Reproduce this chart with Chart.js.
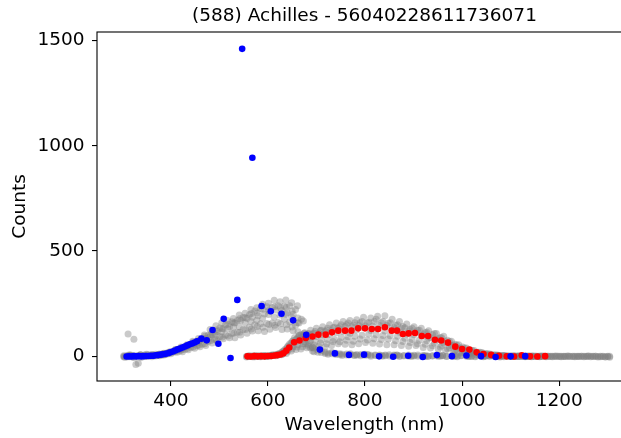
<!DOCTYPE html>
<html>
<head>
<meta charset="utf-8">
<script src="https://cdn.jsdelivr.net/npm/chart.js@4.4.1/dist/chart.umd.min.js"></script>
<style>
  html, body { margin: 0; padding: 0; background: #fff; overflow: hidden; }
  canvas { display: block; }
</style>
</head>
<body>
<canvas id="chart" width="640" height="438"></canvas>
<script>
const title = "(588) Achilles - 56040228611736071";
const xTicks = [400, 600, 800, 1000, 1200];
const yTicks = [0, 500, 1000, 1500];

// BP mean spectrum (blue)
const blueWave = [309, 314, 319, 324, 329, 334, 339, 344, 349, 354, 359, 364, 369, 374, 379, 384, 389, 394, 399, 404,
  409, 414, 419, 424, 429, 434, 439, 444, 449, 454, 463, 474, 486, 498, 509, 523, 537, 547, 568, 587,
  606, 628, 652, 679, 707, 738, 767, 798, 829, 858, 889, 919, 948, 979, 1009, 1039, 1069, 1100, 1130];
const blueCounts = [-1, 0, -1, 1, 0, 1, 0, 1, 2, 2, 3, 3, 5, 6, 8, 10, 12, 15, 19, 23,
  28, 33, 37, 42, 47, 52, 57, 61, 66, 72, 84, 76, 125, 60, 178, -8, 268, 1460, 943, 239,
  214, 202, 171, 102, 32, 14, 7, 8, 0, -2, 3, -3, 6, 1, 4, 1, -3, 0, 1];

// RP mean spectrum (red)
const redWave = [558, 565, 572, 579, 586, 593, 600, 607, 614, 620, 626, 632, 638, 644, 654, 665, 678, 692, 704, 719,
  732, 745, 759, 772, 786, 800, 814, 827, 841, 855, 866, 878, 890, 903, 917, 930, 944, 957, 971, 986,
  1000, 1015, 1030, 1044, 1060, 1076, 1092, 1107, 1123, 1140, 1155, 1171];
const redCounts = [0, -1, 1, 0, 1, 0, 2, 2, 4, 6, 9, 15, 27, 42, 67, 75, 87, 94, 103, 103,
  114, 122, 122, 122, 133, 133, 130, 130, 138, 122, 122, 106, 109, 111, 97, 97, 79, 75, 65, 46,
  35, 32, 19, 11, 7, 3, 0, -1, 5, 0, -1, 1];

// epoch spectra (grey) - BP
const bpGridA = [305, 317, 328, 341, 352, 364, 377, 388, 400, 413, 424, 436, 449, 460, 472, 485, 496, 508, 521, 532,
  544, 557, 568, 580, 593, 604, 616, 629, 640, 652, 664, 677, 695, 724, 753, 783, 812, 842, 871, 901,
  930, 960, 990, 1019, 1049, 1078, 1108, 1137];
const bpGridB = [309, 321, 333, 346, 357, 369, 382, 393, 405, 418, 429, 441, 454, 465, 477, 490, 501, 513, 526, 537,
  549, 562, 573, 585, 598, 609, 621, 634, 645, 657, 669, 683, 703, 732, 762, 791, 821, 850, 880, 909,
  939, 968, 998, 1027, 1057, 1086, 1116, 1145];
const bpGridC = [312, 324, 337, 349, 361, 373, 385, 397, 409, 421, 433, 445, 457, 469, 481, 493, 505, 517, 529, 541,
  553, 565, 577, 589, 601, 613, 625, 637, 649, 661, 673, 688, 710, 740, 770, 800, 830, 860, 890, 920,
  950, 980, 1010, 1040, 1070, 1100, 1130, 1160];
const bpGridD = [303, 315, 326, 338, 350, 362, 375, 386, 398, 410, 422, 434, 446, 458, 470, 482, 494, 506, 518, 530,
  542, 554, 566, 578, 590, 602, 614, 626, 638, 650, 662, 675, 692, 718, 748, 778, 806, 836, 866, 896,
  925, 955, 985, 1014, 1044, 1073, 1103, 1133];
const bpEpoch1 = [-4, 3, -2, 5, 1, 6, 3, 9, 12, 19, 22, 31, 38, 46, 52, 63, 71, 84, 88, 88,
  101, 110, 120, 121, 118, 129, 137, 128, 130, 121, 98, 60, 22, 10, 4, 6, 1, 3, -1, 2,
  0, 3, -2, 1, 0, -3, 1, -1];
const bpEpoch2 = [2, -3, 4, 0, 7, 2, 10, 11, 20, 25, 33, 42, 50, 58, 70, 80, 94, 101, 108, 114,
  127, 138, 150, 155, 156, 158, 161, 176, 163, 148, 104, 48, 19, 12, 7, 3, 6, 2, 4, 0,
  2, -1, 3, 0, 2, -2, 0, 1];
const bpEpoch3 = [106, 81, 6, 3, -2, 9, 12, 18, 28, 35, 47, 58, 66, 80, 93, 100, 117, 131, 139, 140,
  160, 165, 172, 181, 199, 186, 196, 200, 186, 160, 98, 40, 18, 9, 12, 5, 3, 6, 1, 4,
  0, 2, -1, 3, 0, 1, -2, 0];
const bpEpoch4 = [1, 6, -39, -3, 8, 4, 11, 10, 21, 30, 38, 52, 59, 76, 86, 104, 118, 131, 140, 158,
  170, 180, 186, 193, 201, 214, 220, 218, 207, 200, 158, 101, 38, 16, 10, 8, 5, 7, 3, 5,
  1, 4, 2, -1, 3, 0, 2, 0];
const bpEpoch5 = [-3, 4, -33, 6, 3, 10, 6, 17, 22, 34, 43, 58, 72, 84, 100, 112, 135, 150, 164, 170,
  184, 197, 215, 226, 235, 232, 240, 238, 240, 222, 176, 92, 30, 19, 11, 9, 4, 8, 2, 6,
  3, 1, 4, -2, 1, 3, -1, 2];
const bpEpoch6 = [5, -5, 8, 2, 9, 5, 14, 21, 31, 44, 55, 72, 85, 101, 128, 145, 160, 170, 180, 196,
  205, 222, 231, 247, 252, 266, 259, 268, 255, 240, 168, 74, 27, 15, 8, 10, 6, 4, 7, 2,
  5, 1, 3, 0, 2, -1, 1, -2];
const bpEpoch7 = [3, -2, 1, 6, 2, 4, 9, 7, 16, 22, 30, 37, 45, 54, 60, 74, 80, 92, 97, 111,
  114, 128, 130, 142, 138, 151, 148, 155, 150, 139, 117, 70, 25, 13, 8, 4, 7, 1, 5, 2,
  -1, 3, 0, 2, -2, 1, 0, 2];
const bpEpoch8 = [-2, 7, 3, -4, 10, 6, 4, 15, 19, 33, 41, 50, 68, 74, 95, 104, 125, 131, 152, 160,
  178, 184, 204, 206, 224, 219, 236, 229, 233, 215, 182, 110, 42, 20, 12, 6, 9, 4, 6, 1,
  4, 0, 3, 1, -1, 2, 0, -1];

// epoch spectra (grey) - RP
const rpGridA = [556, 568, 580, 592, 604, 616, 628, 638, 648, 658, 668, 680, 692, 705, 718, 731, 745, 759, 773, 787,
  801, 816, 830, 845, 860, 875, 890, 905, 920, 935, 951, 966, 982, 997, 1013, 1029, 1045, 1061, 1077, 1093,
  1110, 1126, 1143, 1160, 1177, 1195, 1213, 1232, 1251, 1270, 1290];
const rpGridB = [561, 573, 585, 597, 609, 621, 632, 642, 652, 662, 673, 685, 697, 710, 723, 737, 751, 765, 779, 794,
  808, 823, 837, 852, 867, 882, 897, 912, 927, 943, 958, 974, 989, 1005, 1021, 1037, 1053, 1069, 1085, 1102,
  1118, 1135, 1151, 1168, 1186, 1204, 1222, 1241, 1260, 1280, 1300];
const rpGridC = [564, 576, 588, 600, 612, 624, 635, 645, 655, 665, 676, 688, 700, 713, 727, 741, 755, 769, 783, 797,
  812, 826, 841, 856, 871, 886, 901, 916, 931, 947, 962, 978, 993, 1009, 1025, 1041, 1057, 1073, 1089, 1106,
  1122, 1139, 1156, 1173, 1191, 1209, 1228, 1246, 1265, 1285, 1304];
const rpGridD = [559, 571, 583, 595, 607, 619, 630, 640, 650, 660, 671, 683, 695, 708, 721, 734, 748, 762, 776, 790,
  805, 819, 834, 848, 863, 878, 893, 908, 924, 939, 955, 970, 985, 1001, 1017, 1033, 1049, 1065, 1081, 1098,
  1114, 1131, 1147, 1164, 1182, 1200, 1218, 1237, 1256, 1275, 1295];
const rpEpoch1 = [-3, 2, -1, 4, 0, 3, 8, 14, 25, 33, 35, 41, 42, 47, 46, 52, 60, 57, 55, 60,
  66, 62, 59, 55, 55, 52, 48, 52, 42, 40, 34, 29, 20, 16, 11, 8, 4, 3, 0, 2,
  -1, 1, -2, 0, 1, -1, 0, -2, 1, -1, 0];
const rpEpoch2 = [2, -2, 1, -1, 4, 6, 15, 31, 46, 55, 60, 68, 70, 78, 80, 80, 90, 93, 95, 100,
  106, 102, 99, 98, 96, 86, 80, 76, 74, 62, 52, 41, 31, 24, 16, 11, 7, 3, 2, 0,
  1, -1, 2, 0, -2, 1, -1, 0, 2, -1, 0];
const rpEpoch3 = [-1, 3, 0, 2, 5, 9, 24, 48, 66, 74, 82, 92, 94, 102, 104, 112, 118, 110, 125, 136,
  123, 130, 120, 127, 114, 106, 102, 99, 86, 78, 64, 50, 38, 26, 19, 12, 8, 4, 1, 2,
  -1, 0, 1, -2, 0, 1, -1, 0, 1, -2, 0];
const rpEpoch4 = [1, -2, 3, 0, 4, 8, 18, 36, 62, 80, 88, 98, 106, 110, 118, 122, 134, 142, 141, 146,
  144, 144, 147, 146, 136, 134, 121, 114, 104, 90, 84, 70, 52, 38, 27, 18, 12, 7, 4, 2,
  0, -1, 1, -1, 0, 2, -1, 0, -2, 1, -1];
const rpEpoch5 = [0, 3, -2, 2, 6, 11, 26, 50, 75, 88, 100, 108, 118, 124, 133, 138, 150, 158, 160, 165,
  162, 176, 165, 160, 150, 136, 133, 124, 114, 108, 88, 71, 54, 40, 28, 19, 12, 7, 4, 1,
  2, 0, -1, 1, 0, -2, 1, -1, 0, -3, -1];
const rpEpoch6 = [2, -1, 3, 1, 7, 14, 32, 60, 88, 100, 112, 124, 133, 140, 150, 158, 166, 170, 174, 186,
  182, 190, 193, 176, 165, 154, 140, 134, 122, 108, 96, 72, 55, 40, 28, 18, 11, 6, 3, 1,
  0, 2, -1, 0, 1, -1, 0, 1, -2, 0, -4];
const rpEpoch7 = [1, -2, 2, 0, 3, 5, 11, 22, 35, 44, 46, 56, 54, 63, 60, 70, 69, 76, 72, 82,
  78, 84, 80, 82, 74, 70, 66, 60, 58, 50, 44, 36, 27, 20, 14, 9, 6, 2, 1, 0,
  2, -1, 0, 1, -1, 0, 2, -1, 0, 1, -2];
const rpEpoch8 = [0, 2, -1, 3, 5, 9, 22, 44, 70, 84, 92, 106, 110, 121, 124, 136, 140, 150, 148, 160,
  158, 166, 160, 157, 148, 142, 128, 124, 112, 104, 90, 76, 58, 44, 30, 20, 13, 8, 4, 2,
  1, 0, -1, 2, 0, -1, 1, 0, -1, 0, -3];

const greySets = [
  [bpGridA, bpEpoch1], [bpGridB, bpEpoch2], [bpGridC, bpEpoch3], [bpGridD, bpEpoch7],
  [bpGridA, bpEpoch4], [bpGridB, bpEpoch5], [bpGridC, bpEpoch6], [bpGridD, bpEpoch8],
  [rpGridA, rpEpoch1], [rpGridB, rpEpoch2], [rpGridC, rpEpoch3], [rpGridD, rpEpoch7],
  [rpGridA, rpEpoch4], [rpGridB, rpEpoch5], [rpGridC, rpEpoch6], [rpGridD, rpEpoch8],
];

const pts = (xs, ys) => xs.map((x, i) => ({ x, y: ys[i] }));

const font = { family: "'DejaVu Sans', sans-serif", size: 18.5 };

const datasets = [
  { data: pts(blueWave, blueCounts), backgroundColor: "#0000ff", pointRadius: 3.3, borderWidth: 0 },
  { data: pts(redWave, redCounts), backgroundColor: "#ff0000", pointRadius: 3.3, borderWidth: 0 },
  ...greySets.map(([xs, ys]) => ({
    data: pts(xs, ys),
    backgroundColor: "rgba(128,128,128,0.42)",
    pointRadius: 3.5,
    borderWidth: 0,
  })),
];

const frame = {
  id: "frame",
  afterDraw(chart) {
    const { ctx, chartArea: a } = chart;
    ctx.save();
    ctx.strokeStyle = "#000";
    ctx.lineWidth = 1.1;
    ctx.strokeRect(a.left, a.top, a.right - a.left, a.bottom - a.top);
    ctx.restore();
  }
};

Chart.defaults.color = "#000";

new Chart(document.getElementById("chart"), {
  type: "scatter",
  data: { datasets },
  options: {
    responsive: false,
    animation: false,
    devicePixelRatio: 1,
    layout: { padding: { left: 0, right: 8, top: 0, bottom: 0 } },
    plugins: {
      legend: { display: false },
      tooltip: { enabled: false },
      title: {
        display: true,
        text: title,
        fullSize: false,
        color: "#000",
        font: { ...font, weight: "normal" },
        padding: { top: 5, bottom: 4.8 },
      },
    },
    scales: {
      x: {
        type: "linear",
        min: 248,
        max: 1350,
        afterBuildTicks: s => { s.ticks = xTicks.map(v => ({ value: v })); },
        afterFit: s => { s.height = 57; },
        ticks: { font, padding: 4, maxRotation: 0, autoSkip: false, color: "#000", callback: v => String(v) },
        grid: { drawOnChartArea: false, drawTicks: true, tickLength: 5, color: "#000", lineWidth: 1.1 },
        border: { display: false },
        title: { display: true, text: "Wavelength (nm)", font, color: "#000", padding: { top: 0, bottom: 2 } },
      },
      y: {
        type: "linear",
        min: -117,
        max: 1540,
        afterBuildTicks: s => { s.ticks = yTicks.map(v => ({ value: v })); },
        afterFit: s => { s.width = 97; },
        ticks: { font, padding: 7.5, color: "#000", callback: v => String(v) },
        grid: { drawOnChartArea: false, drawTicks: true, tickLength: 5, color: "#000", lineWidth: 1.1 },
        border: { display: false },
        title: { display: true, text: "Counts", font, color: "#000", padding: { top: 9, bottom: 0 } },
      },
    },
  },
  plugins: [frame],
});
</script>
</body>
</html>
